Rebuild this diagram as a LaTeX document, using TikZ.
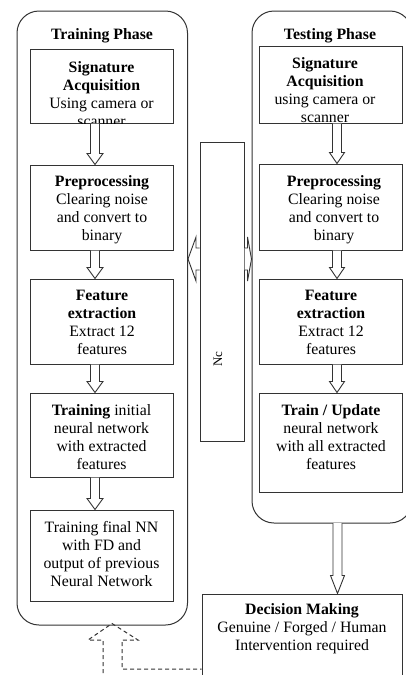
\documentclass[tikz,border=0pt]{standalone}
\usepackage{fontspec}
\setmainfont{Liberation Serif}
\usetikzlibrary{calc}
\tikzset{
  lin/.style={draw=black!80, line width=1pt},
  box/.style={lin, rectangle, inner sep=0pt},
  container/.style={lin, rectangle, inner sep=0pt, rounded corners=22pt},
  txt/.style={align=center, inner sep=0pt, font=\fontsize{15.8}{18}\selectfont},
  harrow/.style={draw=black!80, line width=0.9pt, fill=white, line join=miter},
  dashline/.style={draw=black!80, line width=1pt, dash pattern=on 4pt off 3pt},
}
% hollow downward block arrow: #1 head length, #2 head half width, #3 start, #4 end
\newcommand\hdown[4][11pt]{%
  \draw[harrow] let \p1=(#3), \p2=(#4) in
    (\x1-4.5pt,\y1) -- (\x1-4.5pt,\y2+#1) -- (\x1-#2,\y2+#1) -- (\x1,\y2)
    -- (\x1+#2,\y2+#1) -- (\x1+4.5pt,\y2+#1) -- (\x1+4.5pt,\y1);}
\begin{document}
\begin{tikzpicture}[x=1pt,y=-1pt]
\useasboundingbox (0,0) rectangle (406,675);
\clip (0,0) rectangle (406,675);

% containers
\node[container, minimum width=170.5pt, minimum height=614pt] (lc) at (102.25,318) {};
\node[container, minimum width=160pt, minimum height=512pt] (rc) at (332,267) {};

\node[txt] (lct) at (102,36) {\textbf{Training Phase}};
\node[txt] (rct) at (330,36) {\textbf{Testing Phase}};

% left boxes
\node[box, minimum width=143pt, minimum height=74pt] (l1) at (101.5,86) {};
\node[box, minimum width=143pt, minimum height=85pt] (l2) at (101.5,207.5) {};
\node[box, minimum width=143pt, minimum height=85pt] (l3) at (101.5,321.5) {};
\node[box, minimum width=143pt, minimum height=84pt] (l4) at (101.5,435) {};
\node[box, minimum width=143pt, minimum height=91pt] (l5) at (101.5,555.5) {};

\begin{scope}
\clip (l1.south west) rectangle (l1.north east);
\node[txt] (l1t) at (101.5,94.5) {\textbf{Signature}\\\textbf{Acquisition}\\Using camera or\\scanner};
\end{scope}
\node[txt] (l2t) at (102,210) {\textbf{Preprocessing}\\Clearing noise\\and convert to\\binary};
\node[txt] (l3t) at (102,322.5) {\textbf{Feature}\\\textbf{extraction}\\Extract 12\\features};
\node[txt] (l4t) at (101.5,437) {\textbf{Training} initial\\neural network\\with extracted\\features};
\node[txt] (l5t) at (101.5,554) {Training final NN\\with FD and\\output of previous\\Neural Network};

% right boxes
\node[box, minimum width=143pt, minimum height=77pt] (r1) at (330.5,84.5) {};
\node[box, minimum width=143pt, minimum height=86pt] (r2) at (330.5,207) {};
\node[box, minimum width=143pt, minimum height=85pt] (r3) at (330.5,321.5) {};
\node[box, minimum width=143pt, minimum height=99pt] (r4) at (330.5,442.5) {};

\node[txt] (r1t) at (325,90.5) {\textbf{Signature}\\\textbf{Acquisition}\\using camera or\\scanner};
\node[txt] (r2t) at (334,210) {\textbf{Preprocessing}\\Clearing noise\\and convert to\\binary};
\node[txt] (r3t) at (331,322.5) {\textbf{Feature}\\\textbf{extraction}\\Extract 12\\features};
\node[txt] (r4t) at (331,437.5) {\textbf{Train / Update}\\neural network\\with all extracted\\features};

% Nc box
\node[box, minimum width=44pt, minimum height=299pt] (nc) at (222,291.5) {};
\node[rotate=90, inner sep=0pt, font=\fontsize{13}{15}\selectfont] (nct) at (218,359) {Nc};

% decision box
\node[box, minimum width=200pt, minimum height=110pt] (dm) at (302,649) {};
\node[txt] (dmt) at (302,628.5) {\textbf{Decision Making}\\Genuine / Forged / Human\\Intervention required};

% hollow arrows between boxes
\hdown{8pt}{[xshift=-6.5pt]l1.south}{[xshift=-6.5pt]l2.north}
\hdown{8pt}{[xshift=-6.5pt]l2.south}{[xshift=-6.5pt]l3.north}
\hdown{8pt}{[xshift=-6.5pt]l3.south}{[xshift=-6.5pt]l4.north}
\hdown{8pt}{[xshift=-6.5pt]l4.south}{[xshift=-6.5pt]l5.north}
\hdown{7.5pt}{[xshift=6.5pt]r1.south}{[xshift=6.5pt]r2.north}
\hdown{7.5pt}{[xshift=6.5pt]r2.south}{[xshift=6.5pt]r3.north}
\hdown{7.5pt}{[xshift=6.5pt]r3.south}{[xshift=6.5pt]r4.north}
\coordinate (ra) at (337.5,523);
\hdown[18pt]{7pt}{ra}{ra |- dm.north}

% side arrows from Nc box
\draw[harrow] let \p1=(nc.west), \p2=(lc.east) in
  (\x1,\y1+43.5pt) -- (\x2+8pt,\y1+43.5pt) -- (\x2+8pt,\y1+54.5pt) -- (\x2,\y1+32.5pt)
  -- (\x2+8pt,\y1+10.5pt) -- (\x2+8pt,\y1+21.5pt) -- (\x1,\y1+21.5pt);
\draw[harrow] let \p1=(nc.east), \p2=(rc.west) in
  (\x1,\y1+43.5pt) -- (\x2-4pt,\y1+43.5pt) -- (\x2-4pt,\y1+54.5pt) -- (\x2,\y1+32.5pt)
  -- (\x2-4pt,\y1+10.5pt) -- (\x2-4pt,\y1+21.5pt) -- (\x1,\y1+21.5pt);

% dashed feedback arrow
\coordinate (dtip) at (112,623.5);
\coordinate (dbot) at (103,680);
\draw[dashline] (dbot) -- (103,640) -- (88,640) -- (dtip) -- (138,640) -- (122,640)
  -- (122,669) -- (dm.west |- 122,669);
\end{tikzpicture}
\end{document}
